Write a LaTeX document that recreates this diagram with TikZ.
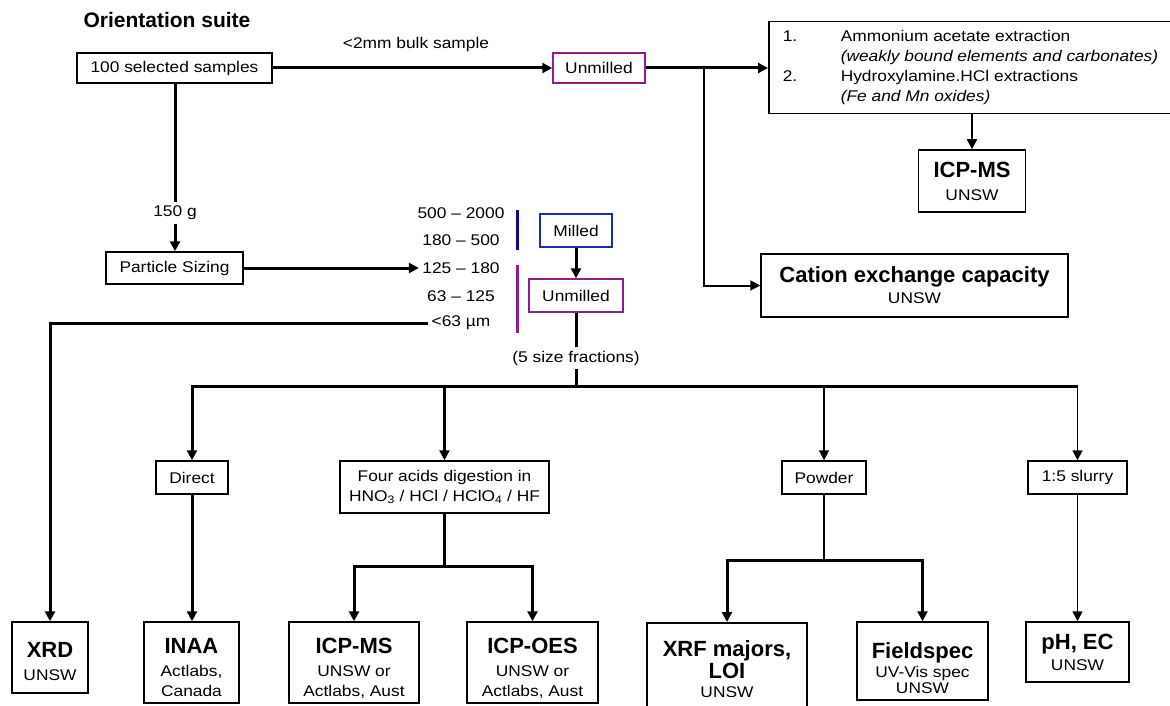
\documentclass[tikz,border=0pt]{standalone}
\usepackage{fontspec}
\setmainfont{Liberation Sans}
\newfontfamily\widefont[FakeStretch=1.12]{Liberation Sans}
\usetikzlibrary{arrows.meta}

\newcommand{\smalltxt}{\widefont\fontsize{15.5}{20}\selectfont}
\newcommand{\bigtxt}{\normalfont\bfseries\fontsize{22}{26}\selectfont}

\definecolor{milledblue}{RGB}{30,40,190}
\definecolor{unmilledpurple}{RGB}{140,30,140}
\definecolor{barblue}{RGB}{10,10,150}

\begin{document}
\begin{tikzpicture}[x=1pt, y=-1pt,
  every node/.style={font=\smalltxt},
  box/.style={draw, line width=1.5pt, inner sep=0pt, align=center},
  heavy/.style={line width=3pt},
  light/.style={line width=1.5pt},
  tip/.style={-{Triangle[length=10pt,width=10pt]}}]

\useasboundingbox (0,0) rectangle (1170,706);

% top row
\node [anchor=west, font=\normalfont\bfseries\fontsize{21}{24}\selectfont] (title) at (80,20) {Orientation suite};
\node [box, minimum width=195pt, minimum height=30pt] (samples) at (174.5,68) {100 selected samples};
\node (bulk) at (416,44) {<2mm bulk sample};
\node [box, draw=unmilledpurple, minimum width=92pt, minimum height=30pt] (unmilledA) at (599,68) {Unmilled};
\node [box, anchor=north west, align=left, inner xsep=14pt, minimum width=400pt, minimum height=92pt] (extract) at (768,21) {%
  \begin{tabular}{@{}p{58pt}@{}l@{}}
  1. & Ammonium acetate extraction\\
     & \itshape (weakly bound elements and carbonates)\\
  2. & Hydroxylamine.HCl extractions\\
     & \itshape (Fe and Mn oxides)
  \end{tabular}};
\node [box, minimum width=107pt, minimum height=62pt] (icpA) at (972,181) {{\bigtxt ICP-MS}\\[3pt]UNSW};
\node [box, minimum width=307pt, minimum height=63pt] (cation) at (914.5,285.5) {{\bigtxt Cation exchange capacity}\\[1pt]UNSW};

\draw [heavy, tip] (samples.east) -- (unmilledA.west);
\draw [heavy, tip] (unmilledA.east) -- (unmilledA.east -| extract.west);
\draw [light, tip] (icpA.north |- extract.south) -- (icpA.north);
\coordinate (split) at (704,68);
\draw [line width=2pt, tip] (split) |- (cation.west);

% particle sizing
\node (gram) at (175,213) {150 g};
\node [box, minimum width=137pt, minimum height=32pt] (sizing) at (174.5,268) {Particle Sizing};
\draw [heavy] (gram.north |- samples.south) -- (gram.north);
\draw [heavy, tip] (gram.south) -- (gram.south |- sizing.north);

\node (f2000) at (461,213) {500 – 2000};
\node (f500) at (461,240) {180 – 500};
\node (f180) at (461,268) {125 – 180};
\node (f125) at (461,296) {63 – 125};
\node (f63) at (461,323) {<63 µm};
\draw [heavy, tip] (sizing.east) -- (sizing.east -| f180.west);

\draw [barblue, line width=3pt] (517,210) -- (517,250);
\draw [unmilledpurple, line width=3pt] (517,265) -- (517,333);

\node [box, draw=milledblue, minimum width=72pt, minimum height=33pt] (milled) at (576,230.5) {Milled};
\node [box, draw=unmilledpurple, minimum width=94pt, minimum height=33pt] (unmilledB) at (576,295.5) {Unmilled};
\node (fractions) at (576,358) {(5 size fractions)};
\draw [heavy, tip] (milled) -- (unmilledB);
\draw [heavy] (unmilledB) -- (fractions);
\coordinate (bus) at (576,386);
\draw [heavy] (fractions) -- (bus);

% preparation
\node [box, minimum width=72pt, minimum height=33pt] (direct) at (192,477.5) {Direct};
\node [box, minimum width=209pt, minimum height=52pt] (acid) at (444.5,487) {Four acids digestion in\\HNO\textsubscript{3} / HCl / HClO\textsubscript{4} / HF};
\node [box, minimum width=84pt, minimum height=33pt] (powder) at (824,477.5) {Powder};
\node [box, minimum width=99pt, minimum height=33pt] (slurry) at (1077.5,477.5) {1:5 slurry};

\draw [heavy, tip] (bus) -| (direct.north);
\draw [heavy, tip] (bus) -| (acid.north);
\draw [heavy] (bus) -- (slurry.north |- bus);
\draw [light, tip] (powder.north |- bus) -- (powder.north);
\draw [light, tip] (slurry.north |- bus) -- (slurry.north);

% analyses
\node [box, minimum width=76pt, minimum height=71pt] (xrd) at (50,657.5) {{\bigtxt\rule{0pt}{24pt}XRD}\\[3pt]UNSW};
\node [box, minimum width=95pt, minimum height=81pt] (inaa) at (191.5,662.5) {{\bigtxt\rule{0pt}{26pt}INAA}\\[3pt]Actlabs,\\Canada};
\node [box, minimum width=130pt, minimum height=81pt] (icpB) at (354,662.5) {{\bigtxt\rule{0pt}{26pt}ICP-MS}\\[3pt]UNSW or\\Actlabs, Aust};
\node [box, minimum width=131pt, minimum height=81pt] (icpoes) at (532.5,662.5) {{\bigtxt\rule{0pt}{26pt}ICP-OES}\\[3pt]UNSW or\\Actlabs, Aust};
\node [box, anchor=north, minimum width=160pt, minimum height=92pt] (xrf) at (727,622) {{\bigtxt XRF majors,}\\[2pt]{\bigtxt LOI}\\[-1pt]UNSW};
\node [box, minimum width=131pt, minimum height=78pt] (fieldspec) at (922.5,661) {{\bigtxt\rule{0pt}{30pt}Fieldspec}\\[-1pt]UV-Vis spec\\[-4pt]UNSW};
\node [box, minimum width=103pt, minimum height=60pt] (ph) at (1077.5,652) {{\bigtxt pH, EC}\\[1pt]UNSW};

\draw [heavy, tip] (f63.west) -| (xrd.north);
\draw [heavy, tip] (direct.south) -- (direct.south |- inaa.north);
\draw [heavy] (acid.south) -- ++(0,53) coordinate (acidsplit);
\draw [heavy, tip] (acidsplit) -| (icpB.north);
\draw [heavy, tip] (acidsplit) -| (icpoes.north);
\draw [light] (powder.south) -- ++(0,66) coordinate (powdersplit);
\draw [heavy, tip] (powdersplit) -| (xrf.north);
\draw [heavy, tip] (powdersplit) -| (fieldspec.north);
\draw [light, tip] (slurry.south) -- (ph.north);
\end{tikzpicture}
\end{document}
